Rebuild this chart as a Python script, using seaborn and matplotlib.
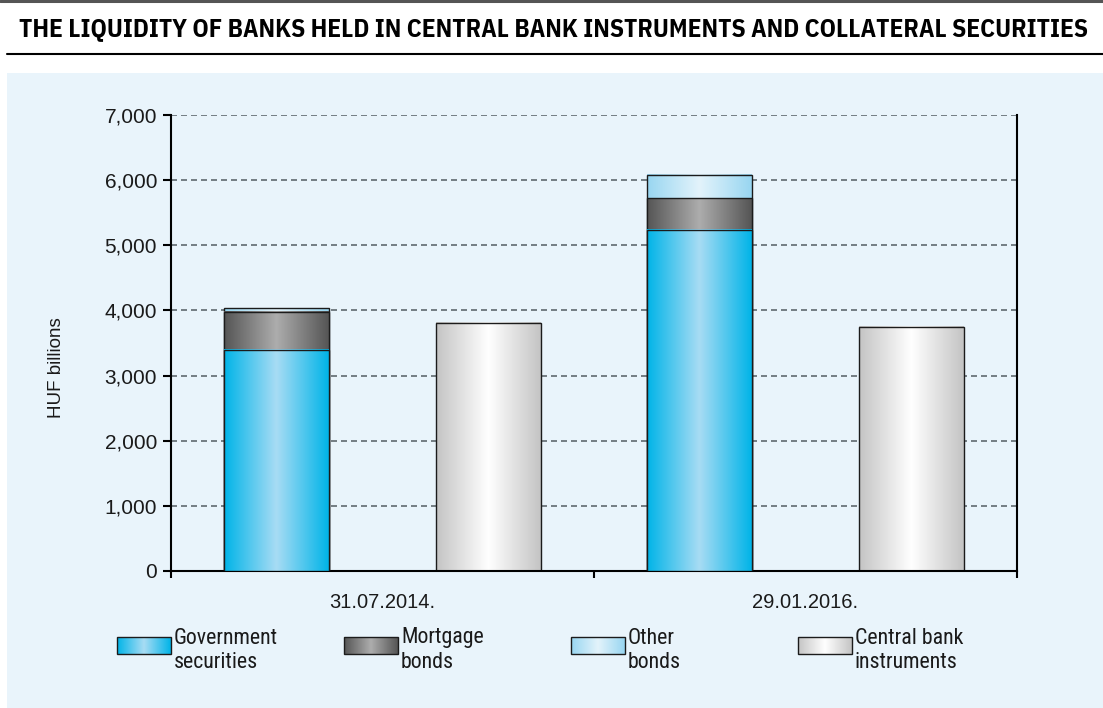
import numpy as np
import pandas as pd
import seaborn as sns
import matplotlib.pyplot as plt
from matplotlib import font_manager
from matplotlib.colors import LinearSegmentedColormap
from matplotlib.lines import Line2D
from matplotlib.patches import Rectangle

# data (HUF billions)
dates = ["31.07.2014.", "29.01.2016."]
kinds = ["Collateral", "Central bank"]
gov_sec = [3400, 5235]
mortgage = [580, 486]
other_bonds = [50, 358]
central_bank = [3810, 3750]
y_ticks = [0, 1000, 2000, 3000, 4000, 5000, 6000, 7000]
legend_lines = [("Government", "securities"), ("Mortgage", "bonds"),
                ("Other", "bonds"), ("Central bank", "instruments")]
legend_keys = ["gov", "mortgage", "other", "central"]

title = "THE LIQUIDITY OF BANKS HELD IN CENTRAL BANK INSTRUMENTS AND COLLATERAL SECURITIES"

sns.set_theme(style="white")
names = {f.name for f in font_manager.fontManager.ttflist}


def pick(cands, default):
    for c in cands:
        if c in names:
            return c
    return default


title_font = pick(["IBM Plex Sans Condensed", "Open Sans Condensed", "Anton"], "DejaVu Sans")
narrow = pick(["Roboto Condensed", "Archivo Narrow", "PT Sans Narrow", "Liberation Sans Narrow",
               "IBM Plex Sans Condensed"], "Liberation Sans")
title_weight = "normal" if title_font == "Anton" else "bold"
plt.rcParams["font.family"] = ["Liberation Sans", "DejaVu Sans"]

BG = "#e9f4fb"
EDGE = "#1b1b1b"
# (edge colour, centre colour) of each horizontal gradient
grad = {
    "gov": ("#00b4e8", "#a8dcf4"),
    "mortgage": ("#555555", "#adadad"),
    "other": ("#98d6f1", "#e3f3fb"),
    "central": ("#c4c4c4", "#ffffff"),
}
cmaps = {k: LinearSegmentedColormap.from_list(k, [v[0], v[1], v[0]]) for k, v in grad.items()}
ramp = np.linspace(0, 1, 256)[None, :]

fig = plt.figure(figsize=(11.03, 7.08), dpi=100)
W, H = 1103, 708
fig.patches.append(Rectangle((7 / W, 0), 1, (H - 73) / H, transform=fig.transFigure,
                             facecolor=BG, edgecolor="none", zorder=-1))
fig.lines.append(Line2D([0, 1], [1 - 1 / H] * 2, transform=fig.transFigure, color="#555555", lw=2.2))
fig.lines.append(Line2D([7 / W, 1], [1 - 54 / H] * 2, transform=fig.transFigure, color="black", lw=1.5))

t = fig.text(553.5 / W, 1 - 29 / H, title, ha="center", va="center", fontsize=19,
             fontweight=title_weight, family=[title_font, "DejaVu Sans"], color="black")

ax = fig.add_axes([171 / W, (H - 571) / H, 846 / W, 456 / H])
ax.patch.set_alpha(0)

# stacked bars drawn as overlapping cumulative layers
total = [g + m + o for g, m, o in zip(gov_sec, mortgage, other_bonds)]
gov_mort = [g + m for g, m in zip(gov_sec, mortgage)]
layers = [
    pd.DataFrame({"date": dates + dates, "kind": ["Collateral"] * 2 + ["Central bank"] * 2,
                  "value": total + central_bank}),
    pd.DataFrame({"date": dates, "kind": ["Collateral"] * 2, "value": gov_mort}),
    pd.DataFrame({"date": dates, "kind": ["Collateral"] * 2, "value": gov_sec}),
]
layer_keys = ["other", "mortgage", "gov"]

for i, frame in enumerate(layers):
    n0 = len(ax.patches)
    sns.barplot(data=frame, x="date", y="value", hue="kind", order=dates, hue_order=kinds,
                width=1.0, gap=0.504, dodge=True, legend=False, errorbar=None,
                palette=["#999999", "#cccccc"], edgecolor=EDGE, linewidth=1.0, ax=ax)
    for p in ax.patches[n0:]:
        x0, y0, w, h = p.get_x(), p.get_y(), p.get_width(), p.get_height()
        if not np.isfinite(h) or h <= 0:
            continue
        cx = x0 + w / 2
        key = layer_keys[i] if cx < round(cx) else "central"
        ax.imshow(ramp, cmap=cmaps[key], extent=(x0, x0 + w, y0, y0 + h), aspect="auto",
                  interpolation="bilinear", zorder=2 + 2 * i)
        p.set_facecolor("none")
        p.set_zorder(2.5 + 2 * i)

ax.set_xlim(-0.5, 1.5)
ax.set_ylim(0, 7000)
ax.set_yticks(y_ticks)
ax.set_yticklabels([f"{v:,}" for v in y_ticks])
ax.set_xticks([-0.5, 0.5, 1.5])
ax.set_xticklabels(["", "", ""])
ax.set_xticks([0, 1], minor=True)
ax.set_xticklabels(dates, minor=True)
ax.set_xlabel("")
ax.set_ylabel("HUF billions", fontsize=13.5, color="#1a1a1a")
ax.yaxis.set_label_coords(-0.125, 0.445)

ax.set_axisbelow(True)
ax.yaxis.grid(True, color="#5f696f", lw=1.2, linestyle=(0, (3.6, 2.4)))
ax.xaxis.grid(False)

ax.tick_params(axis="y", left=True, direction="out", length=6, width=1.5, pad=4,
               labelsize=15, labelcolor="#1a1a1a", color="black")
ax.tick_params(axis="x", which="major", bottom=True, direction="out", length=5, width=1.5, color="black")
ax.tick_params(axis="x", which="minor", bottom=True, length=0, pad=16, labelsize=14.5, labelcolor="#1a1a1a")
for side in ["left", "right", "bottom"]:
    ax.spines[side].set_color("black")
    ax.spines[side].set_linewidth(1.5)
ax.spines["top"].set_visible(False)

# legend, drawn by hand so the swatches keep the gradients
lax = fig.add_axes([0, 0, 1, 1], zorder=5)
lax.set_xlim(0, W)
lax.set_ylim(H, 0)
lax.axis("off")
leg_texts = []
for i, (key, (l1, l2)) in enumerate(zip(legend_keys, legend_lines)):
    sx = 117 + 227 * i
    lax.imshow(ramp, cmap=cmaps[key], extent=(sx, sx + 54, 654, 637), aspect="auto",
               interpolation="bilinear")
    lax.add_patch(Rectangle((sx, 637), 54, 17, facecolor="none", edgecolor=EDGE, lw=1.0))
    for yy, s in [(638, l1), (662, l2)]:
        leg_texts.append(lax.text(sx + 57, yy, s, va="center", ha="left", fontsize=14,
                                  color="#1a1a1a", family=[narrow, "DejaVu Sans"]))

# fit title and legend text to the widths they take in the reference
fig.canvas.draw()
bb = t.get_window_extent()
t.set_fontsize(19 * 1063 / bb.width)
lw_ref = leg_texts[0].get_window_extent().width
leg_size = 14 * 105 / lw_ref
for tx in leg_texts:
    tx.set_fontsize(leg_size)

fig.savefig("out.png", dpi=100, facecolor="white")
